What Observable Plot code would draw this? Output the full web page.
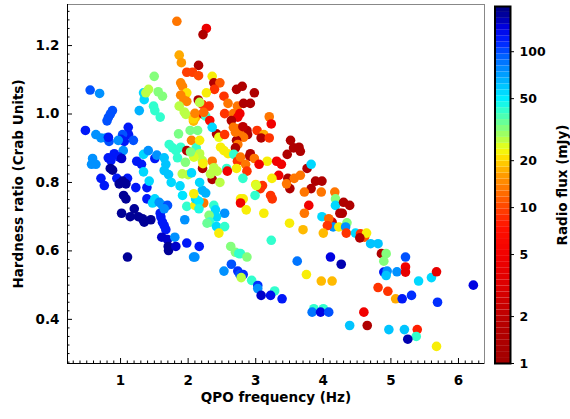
<!DOCTYPE html>
<html>
<head>
<meta charset="utf-8">
<script src="https://cdn.jsdelivr.net/npm/d3@7"></script>
<script src="https://cdn.jsdelivr.net/npm/@observablehq/plot@0.6"></script>
<style>
  html, body { margin: 0; padding: 0; background: white; }
  #wrap { position: relative; width: 570px; height: 419px; }
  #wrap svg { position: absolute; left: 0; top: 0; }
</style>
</head>
<body>
<div id="wrap"></div>
<script>
// ---- data ----
const qpo = [0.55,0.69,0.88,0.85,0.82,0.80,0.48,0.635,0.71,0.78,0.83,0.82,1.114,1.118,1.03,1.005,1.19,1.055,0.966,1.04,
0.907,0.98,0.818,1.015,0.857,1.24,1.31,0.586,0.571,0.635,0.848,0.882,0.71,0.945,1.103,1.03,0.76,0.98,1.08,1.226,
1.39,1.045,1.08,1.39,1.015,1.143,1.203,1.262,1.325,1.35,1.448,1.587,1.597,1.62,1.646,1.67,1.61,1.695,1.71,1.705,
1.803,1.818,1.98,2.164,1.103,2.08,2.10,1.95,1.34,1.41,1.507,1.537,1.646,1.67,1.646,1.71,1.34,1.424,1.75,1.88,
1.917,1.507,1.473,1.572,1.62,1.695,1.646,1.277,1.34,1.35,1.488,1.507,1.587,1.498,1.414,1.374,1.557,1.62,1.72,1.77,
1.82,1.843,1.858,1.89,
1.833,2.27,2.22,1.868,1.90,2.154,1.98,2.065,2.154,1.89,1.917,1.98,1.89,1.94,1.98,1.868,1.942,1.966,2.08,2.114,
2.03,2.14,2.05,1.98,2.12,2.0,2.05,2.213,2.356,2.38,2.47,2.39,2.27,2.53,2.716,2.80,2.98,2.59,2.73,2.82,
2.92,2.31,2.21,2.54,2.67,2.765,2.735,2.22,2.26,2.32,2.64,3.20,3.23,2.67,3.02,2.87,2.88,2.765,2.82,2.42,
2.455,2.54,3.12,3.08,3.20,2.716,2.735,2.48,2.53,2.59,2.70,2.675,2.92,2.91,3.515,3.56,3.64,3.66,3.466,2.356,
2.73,2.98,2.85,3.17,3.31,3.38,3.05,2.716,2.87,3.34,3.475,3.57,3.66,3.76,3.82,2.81,3.0,3.24,3.885,3.98,
2.38,2.43,2.57,2.356,2.58,3.505,3.456,3.82,3.72,3.97,4.17,4.18,4.18,3.785,4.30,4.39,4.28,4.245,4.35,4.13,
4.146,4.23,4.33,4.34,4.476,4.55,4.61,4.64,4.54,4.70,4.81,4.86,4.93,4.895,5.216,4.106,4.265,4.895,4.945,4.93,
5.09,5.216,5.216,5.41,5.60,5.675,6.22,4.13,3.97,4.81,4.955,5.07,5.167,5.305,5.69,4.6,4.39,4.65,4.97,5.2,
5.39,5.375,5.25,5.675,3.72,3.5,3.70,3.98,4.08,4.06,4.0,3.614,3.75,3.39,3.86,4.0,3.835,3.96,4.08,2.21,
2.26,2.23,2.47,3.1,3.07,2.99,2.775,2.815,2.775,3.22,3.244,2.86,3.12,2.54,2.38,2.405,2.37,2.42,2.31,2.32,
2.42,2.54,2.455,3.23,2.63,2.70,2.75,2.775,2.87,2.53,2.64,2.735,2.765,2.815,2.785,2.94,3.03,3.03,3.28,3.08,
3.22,1.98,2.1,2.11,2.16,2.16,2.28,2.17,2.17,2.21,2.085,2.22,2.33,2.775,3.01,1.96,1.913,2.17,2.084,2.035,
2.74,2.70,2.81,2.23,2.15,2.17,2.075,2.10,2.356];

const hardness = [1.07,1.06,1.01,1.00,0.99,0.98,0.952,0.94,0.93,0.93,0.92,0.932,0.961,0.94,0.94,0.926,0.923,0.92,0.923,0.893,
0.884,0.874,0.872,0.87,0.864,0.862,0.853,0.87,0.853,0.853,0.841,0.836,0.812,0.812,0.812,0.804,0.791,0.796,0.796,0.785,
0.785,0.762,0.752,0.752,0.71,0.70,0.723,0.70,0.694,0.684,0.691,0.71,0.699,0.684,0.674,0.662,0.64,0.633,0.601,0.613,
0.64,0.613,0.623,0.613,0.582,0.582,0.582,0.691,0.882,0.893,0.87,0.88,0.872,0.853,0.835,0.823,0.831,0.804,0.80,0.79,
0.762,0.752,0.74,0.742,0.733,0.733,0.723,1.01,1.062,1.042,1.023,1.01,0.991,1.11,1.072,1.062,1.065,1.052,0.911,0.901,
0.893,0.872,0.942,0.903,
1.271,1.25,1.232,1.172,1.15,1.142,1.122,1.122,1.112,1.091,1.081,1.062,1.055,1.04,1.037,1.023,1.006,0.999,0.979,0.991,
0.952,0.952,0.923,0.893,0.901,0.823,0.828,0.841,1.11,1.091,1.091,1.072,1.062,1.052,1.072,1.081,1.062,1.031,1.023,1.031,
1.031,1.023,1.028,1.001,1.001,1.001,0.991,1.0,0.994,0.981,0.981,0.992,0.971,0.961,0.952,0.952,0.94,0.942,0.932,0.942,
0.932,0.94,0.94,0.93,0.93,0.923,0.911,0.903,0.893,0.884,0.901,0.882,0.884,0.877,0.923,0.901,0.903,0.891,0.882,0.862,
0.862,0.87,0.853,0.862,0.862,0.853,0.853,0.841,0.833,0.821,0.812,0.812,0.821,0.841,0.853,0.812,0.794,0.812,0.804,0.804,
0.843,0.833,0.841,0.809,0.833,0.782,0.796,0.782,0.772,0.772,0.772,0.752,0.733,0.733,0.742,0.733,0.71,0.71,0.682,0.684,
0.67,0.67,0.67,0.652,0.652,0.65,0.64,0.652,0.638,0.621,0.621,0.592,0.592,0.57,0.582,0.582,0.561,0.538,0.541,0.528,
0.539,0.553,0.538,0.512,0.522,0.539,0.50,0.512,0.512,0.493,0.482,0.46,0.46,0.47,0.45,0.421,0.382,0.382,0.37,0.37,
0.37,0.35,0.342,0.321,0.71,0.681,0.662,0.70,0.694,0.674,0.652,0.57,0.531,0.46,0.431,0.431,0.421,0.421,0.421,0.777,
0.769,0.74,0.80,0.791,0.782,0.762,0.752,0.752,0.74,0.762,0.752,0.72,0.71,0.71,0.733,0.72,0.704,0.699,0.704,0.684,
0.671,0.671,0.652,0.631,0.613,0.596,0.592,0.592,0.582,0.541,0.561,0.541,0.531,0.531,0.522,0.514,0.499,0.49,0.483,0.47,
0.47,0.73,0.733,0.752,0.745,0.723,0.681,0.923,0.884,0.864,0.874,0.855,0.825,0.874,0.791,0.859,0.825,0.80,0.767,0.889,
0.957,0.947,0.963,1.005,1.041,1.034,0.986,1.002,0.961];

const radio = [98,75,98,98,98,98,121,75,75,75,98,121,121,121,98,121,98,121,75,75,
121,121,121,150,121,121,121,75,75,75,175,175,121,121,121,175,121,175,175,121,
121,175,175,121,175,175,175,175,175,175,175,121,121,121,121,121,150,150,175,175,
75,150,121,121,175,75,75,75,55,75,121,75,60,60,60,60,55,55,55,55,
52,55,55,75,75,98,75,65,55,55,42,42,42,32,27,27,32,32,42,42,
42,42,33,42,
13,4.5,1.5,17,16,1.5,9.5,9.5,10,14,14,21,14,14,14,27,27,27,18,18,
33,33,14,1.5,42,27,55,1.5,22,1.6,11,9,22,9,1.5,1.5,1.5,13,13,1.5,
1.5,9,9,9,13,5,5,5,42,6,1.5,13,5,13,9,1.5,1.5,13,13,1.5,
24,9,17,1.5,9,1.5,13,22,22,22,1.5,42,1.5,1.5,1.5,1.5,1.5,1.5,1.5,13,
9,13,13,22,5,5,5,22,9,5,1.5,13,13,1.5,55,42,22,22,1.5,1.5,
27,27,42,1.5,5,1.5,13,1.5,13,13,13,32,55,5,1.5,1.5,1.5,1.5,32,2.5,
75,22,75,9,55,9,11,22,1.5,60,60,1.5,32,32,98,140,160,121,75,60,
75,5,4,55,55,4,140,18,18,9,9,17,121,110,110,5,60,1.5,60,60,
8,42,160,22,13,22,18,55,12,9,18,85,22,121,42,42,85,140,98,65,
65,13,27,9,9,42,22,22,5,9,9,22,22,75,42,55,55,55,32,42,
55,42,22,42,32,32,42,42,32,75,98,110,98,110,27,42,110,75,42,150,
130,42,22,55,50,45,35,22,27,27,25,22,27,13,25,32,27,55,22,32,
13,13,2,12,1.5,27,20,14,55];

const xMajor = [1, 2, 3, 4, 5, 6];
const yMajor = [0.4, 0.6, 0.8, 1.0, 1.2];
const cbTicks = [1, 2, 5, 10, 20, 50, 100];
const xLabel = "QPO frequency (Hz)";
const yLabel = "Hardness ratio (Crab Units)";
const cbLabel = "Radio flux (mJy)";

// ---- scales / styling ----
const xDomain = [0.215, 6.385];
const yDomain = [0.271, 1.32];
const fluxDomain = [1, 195];

const cmapStops  = [0, 0.12, 0.2, 0.3, 0.38, 0.43, 0.48, 0.53, 0.575, 0.6, 0.63, 0.67, 0.71, 0.74, 0.8, 0.86, 0.9, 0.94, 0.97, 1];
const cmapColors = ["#a00000","#b80000","#d80000","#f00000","#ff1000","#ff4000","#ff7000","#ffa000","#ffe000","#f0ff10",
                    "#b0ff50","#70ff90","#30ffd0","#00f0ff","#00a8ff","#0060ff","#0020ff","#0000e0","#0000a0","#000080"];
const cmap = d3.scaleLinear().domain(cmapStops).range(cmapColors).interpolate(d3.interpolateRgb).clamp(true);
const colorOpts = {type: "log", domain: fluxDomain, interpolate: t => cmap(t)};

const data = qpo.map((x, i) => ({x, y: hardness[i], f: radio[i]}));

const W = 570, H = 419;
const mL = 67, mR = 86, mT = 4, mB = 56;
const plotW = W - mL - mR, plotH = H - mT - mB;
const font = "DejaVu Sans";

const xMinor = d3.range(3, 64).map(i => i / 10).filter(v => !xMajor.includes(Math.round(v * 10) / 10));
const yMinor = d3.range(11, 53).map(i => i / 40).filter(v => !yMajor.some(m => Math.abs(m - v) < 1e-9));

const main = Plot.plot({
  width: W, height: H,
  marginLeft: mL, marginRight: mR, marginTop: mT, marginBottom: mB,
  style: {fontFamily: font, fontWeight: "bold", fontSize: "13.5px", background: "white", color: "black"},
  x: {domain: xDomain},
  y: {domain: yDomain},
  color: colorOpts,
  marks: [
    Plot.dot(data, {x: "x", y: "y", fill: "f", r: 4.8}),
    Plot.frame({stroke: "#888", strokeWidth: 1}),
    Plot.ruleX([xDomain[0]], {stroke: "black", strokeWidth: 1}),
    Plot.ruleY([yDomain[0]], {stroke: "black", strokeWidth: 1}),
    Plot.ruleX(xMinor, {x: d => d, insetTop: plotH - 2.5, stroke: "black"}),
    Plot.ruleX(xMajor, {x: d => d, insetTop: plotH - 5, stroke: "black"}),
    Plot.ruleY(yMinor, {y: d => d, insetRight: plotW - 2.5, stroke: "black"}),
    Plot.ruleY(yMajor, {y: d => d, insetRight: plotW - 5, stroke: "black"}),
    Plot.axisX({ticks: xMajor, tickSize: 0, tickPadding: 12, tickFormat: d => String(d), label: null, fontSize: 13.5, fontWeight: "bold"}),
    Plot.axisY({ticks: yMajor, tickSize: 0, tickPadding: 8, tickFormat: d3.format(".1f"), label: null, fontSize: 13.5, fontWeight: "bold"}),
    Plot.text([xLabel], {text: d => d, frameAnchor: "bottom", textAnchor: "middle", dy: 38, fontSize: 13.5, fontWeight: "bold", fill: "black"}),
    Plot.text([yLabel], {text: d => d, frameAnchor: "left", textAnchor: "middle", dx: -49, rotate: -90, fontSize: 13.5, fontWeight: "bold", fill: "black"})
  ]
});

const N = 60;
const bands = d3.range(N).map(i => {
  const lo = fluxDomain[0] * Math.pow(fluxDomain[1] / fluxDomain[0], i / N);
  const hi = fluxDomain[0] * Math.pow(fluxDomain[1] / fluxDomain[0], (i + 1) / N);
  return {lo, hi, mid: Math.sqrt(lo * hi)};
});

const cbar = Plot.plot({
  width: W, height: H,
  marginLeft: 494.5, marginRight: 60, marginTop: 6, marginBottom: 56,
  style: {fontFamily: font, fontWeight: "bold", fontSize: "12.5px", background: "transparent", color: "black", overflow: "visible"},
  x: {domain: [0, 1], axis: null},
  y: {type: "log", domain: fluxDomain, axis: null},
  color: colorOpts,
  marks: [
    Plot.rect(bands, {x1: 0, x2: 1, y1: "lo", y2: "hi", fill: "mid"}),
    Plot.frame({stroke: "black", strokeWidth: 2}),
    Plot.axisY({anchor: "right", ticks: cbTicks, tickSize: 3, tickPadding: 6, tickFormat: d => String(d), label: null, fontSize: 12.5, fontWeight: "bold"}),
    Plot.text([cbLabel], {text: d => d, frameAnchor: "right", textAnchor: "middle", dx: 52, rotate: -90, fontSize: 13.5, fontWeight: "bold", fill: "black"})
  ]
});

const wrap = document.getElementById("wrap");
wrap.appendChild(main);
wrap.appendChild(cbar);
</script>
</body>
</html>
